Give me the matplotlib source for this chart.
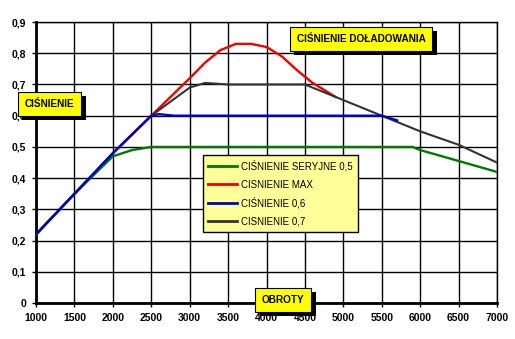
import matplotlib.pyplot as plt
import matplotlib.patheffects as pe

plt.rcParams['font.family'] = ['Liberation Sans', 'DejaVu Sans']

# boost pressure curves vs engine speed
rpm_seryjne = [1000, 1500, 2000, 2250, 2500, 3000, 4000, 5000, 5500, 5900, 6000, 6500, 7000]
p_seryjne = [0.22, 0.35, 0.47, 0.49, 0.50, 0.50, 0.50, 0.50, 0.50, 0.50, 0.49, 0.455, 0.42]

rpm_max = [1000, 1500, 2000, 2500, 3000, 3200, 3400, 3600, 3800, 4000, 4200, 4400, 4600, 4900]
p_max = [0.22, 0.35, 0.48, 0.60, 0.72, 0.77, 0.81, 0.83, 0.83, 0.82, 0.79, 0.745, 0.705, 0.66]

rpm_06 = [1000, 1500, 2000, 2500, 2600, 2800, 3000, 4000, 5000, 5500, 5700]
p_06 = [0.22, 0.35, 0.48, 0.60, 0.605, 0.60, 0.60, 0.60, 0.60, 0.60, 0.585]

rpm_07 = [1000, 1500, 2000, 2500, 3000, 3200, 3500, 4000, 4500, 5000, 5500, 6000, 6500, 7000]
p_07 = [0.22, 0.35, 0.48, 0.60, 0.69, 0.705, 0.70, 0.70, 0.70, 0.65, 0.60, 0.55, 0.507, 0.45]

x_ticks = [1000, 1500, 2000, 2500, 3000, 3500, 4000, 4500, 5000, 5500, 6000, 6500, 7000]
y_ticks = [0, 0.1, 0.2, 0.3, 0.4, 0.5, 0.6, 0.7, 0.8, 0.9]
y_labels = ['0', '0,1', '0,2', '0,3', '0,4', '0,5', '0,6', '0,7', '0,8', '0,9']

fig = plt.figure(figsize=(5.15, 3.39), dpi=100)
ax = fig.add_axes([0.070, 0.106, 0.895, 0.829])

ax.plot(rpm_07, p_07, color='#333333', lw=1.5, label='CISNIENIE 0,7', zorder=3)
ax.plot(rpm_06, p_06, color='#0000cc', lw=1.7, label='CIŚNIENIE 0,6', zorder=4)
ax.plot(rpm_max, p_max, color='#ee0000', lw=1.7, label='CISNIENIE MAX', zorder=2)
ax.plot(rpm_seryjne, p_seryjne, color='#007700', lw=1.7, label='CIŚNIENIE SERYJNE 0,5', zorder=3)

ax.set_xlim(1000, 7000)
ax.set_ylim(0, 0.9)
ax.set_xticks(x_ticks)
ax.set_xticklabels([str(v) for v in x_ticks])
ax.set_yticks(y_ticks)
ax.set_yticklabels(y_labels)
ax.tick_params(labelsize=7.5, length=3, width=1, pad=4)
for lbl in ax.get_xticklabels() + ax.get_yticklabels():
    lbl.set_fontweight('bold')
ax.grid(True, color='black', lw=1)
ax.set_axisbelow(True)
for side in ['top', 'right']:
    ax.spines[side].set_linewidth(1)
for side in ['left', 'bottom']:
    ax.spines[side].set_linewidth(2)

handles, labels = ax.get_legend_handles_labels()
order = [3, 2, 1, 0]
leg = ax.legend([handles[i] for i in order], [labels[i] for i in order],
                loc='upper left', bbox_to_anchor=(0.362, 0.527), fontsize=7,
                frameon=True, fancybox=False, facecolor='#ffff99', edgecolor='black',
                framealpha=1, handlelength=3.0, handletextpad=0.4,
                labelspacing=0.8, borderpad=0.55, borderaxespad=0)
leg.get_frame().set_linewidth(1)
for line in leg.get_lines():
    line.set_linewidth(2)


def label_box(x, y, text):
    t = ax.text(x, y, text, transform=ax.transAxes, fontsize=7.2, fontweight='bold',
                ha='center', va='center', zorder=10,
                bbox=dict(boxstyle='square,pad=0.7', fc='#ffff00', ec='black', lw=0.8))
    t.get_bbox_patch().set_path_effects([
        pe.withSimplePatchShadow(offset=(3.5, -3.5), shadow_rgbFace='black', alpha=1)])


label_box(0.705, 0.941, 'CIŚNIENIE DOŁADOWANIA')
label_box(0.029, 0.710, 'CIŚNIENIE')
label_box(0.536, 0.0125, 'OBROTY')

fig.savefig('out.png', dpi=100)
